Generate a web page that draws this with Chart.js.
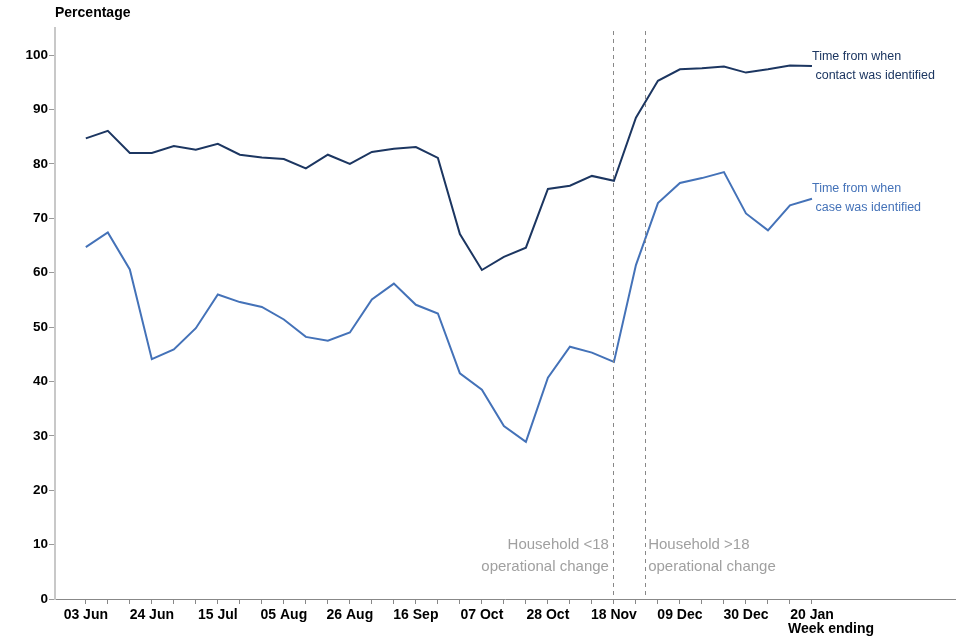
<!DOCTYPE html>
<html lang="en">
<head>
    <meta charset="UTF-8">
    <title>Contact tracing - time from identification</title>
    <script src="https://cdn.jsdelivr.net/npm/chart.js"></script>
    <style>
        body { margin: 0; background: #fff; }
        #wrap { width: 960px; height: 640px; }
    </style>
</head>
<body>
    <div id="wrap"><canvas id="trendChart" width="960" height="640"></canvas></div>

    <script>
        // weekly data, week ending
        const weeks = ['03 Jun', '10 Jun', '17 Jun', '24 Jun', '01 Jul', '08 Jul', '15 Jul', '22 Jul', '29 Jul',
            '05 Aug', '12 Aug', '19 Aug', '26 Aug', '02 Sep', '09 Sep', '16 Sep', '23 Sep', '30 Sep',
            '07 Oct', '14 Oct', '21 Oct', '28 Oct', '04 Nov', '11 Nov', '18 Nov', '25 Nov', '02 Dec',
            '09 Dec', '16 Dec', '23 Dec', '30 Dec', '06 Jan', '13 Jan', '20 Jan'];

        const contactValues = [84.7, 86.1, 82.0, 82.0, 83.3, 82.6, 83.7, 81.7, 81.2,
            80.9, 79.2, 81.7, 80.0, 82.2, 82.8, 83.1, 81.1, 67.1,
            60.5, 62.9, 64.6, 75.4, 76.0, 77.8, 76.9, 88.5, 95.3,
            97.4, 97.6, 97.9, 96.8, 97.4, 98.1, 98.0];

        const caseValues = [64.7, 67.4, 60.6, 44.1, 45.9, 49.8, 56.0, 54.6, 53.7,
            51.4, 48.2, 47.5, 49.0, 55.1, 58.0, 54.1, 52.5, 41.5,
            38.5, 31.8, 28.9, 40.7, 46.4, 45.3, 43.6, 61.4, 72.8,
            76.5, 77.4, 78.5, 70.9, 67.8, 72.4, 73.6];

        const yTicks = [0, 10, 20, 30, 40, 50, 60, 70, 80, 90, 100];

        // operational change markers (position in weeks from 03 Jun)
        const changeLines = [24, 25.42];

        const contactColor = '#1c3661';
        const caseColor = '#4472b8';
        const fontFamily = '"Liberation Sans", Arial, sans-serif';

        const toPoints = (vals) => vals.map((v, i) => ({ x: i, y: v }));

        const annotations = {
            id: 'annotations',
            afterDatasetsDraw(chart) {
                const { ctx, chartArea, scales } = chart;
                const x = scales.x;
                ctx.save();

                // dashed vertical lines
                ctx.strokeStyle = '#888';
                ctx.lineWidth = 1;
                ctx.setLineDash([4, 4]);
                changeLines.forEach(v => {
                    const px = Math.floor(x.getPixelForValue(v)) + 0.5;
                    ctx.beginPath();
                    ctx.moveTo(px, 31);
                    ctx.lineTo(px, chartArea.bottom);
                    ctx.stroke();
                });
                ctx.setLineDash([]);

                ctx.font = '15px ' + fontFamily;
                ctx.fillStyle = '#a0a0a0';
                ctx.textBaseline = 'middle';
                const l1 = x.getPixelForValue(changeLines[0]);
                const l2 = x.getPixelForValue(changeLines[1]);
                ctx.textAlign = 'right';
                ctx.fillText('Household <18', l1 - 5, 545);
                ctx.fillText('operational change', l1 - 5, 567);
                ctx.textAlign = 'left';
                ctx.fillText('Household >18', l2 + 3, 545);
                ctx.fillText('operational change', l2 + 3, 567);

                // series labels at line ends
                ctx.font = '12.5px ' + fontFamily;
                const endX = x.getPixelForValue(weeks.length - 1);
                ctx.fillStyle = contactColor;
                ctx.fillText('Time from when', endX, 57);
                ctx.fillText(' contact was identified', endX, 76);
                ctx.fillStyle = caseColor;
                ctx.fillText('Time from when', endX, 189);
                ctx.fillText(' case was identified', endX, 208);

                // axis titles
                ctx.fillStyle = '#000';
                ctx.font = 'bold 14px ' + fontFamily;
                ctx.fillText('Percentage', 55, 13);
                ctx.fillText('Week ending', 788, 629);
                ctx.restore();
            }
        };

        const chart = new Chart(document.getElementById('trendChart').getContext('2d'), {
            type: 'line',
            data: {
                datasets: [
                    {
                        label: 'Time from when contact was identified',
                        data: toPoints(contactValues),
                        borderColor: contactColor,
                        borderWidth: 2,
                        pointRadius: 0,
                        tension: 0
                    },
                    {
                        label: 'Time from when case was identified',
                        data: toPoints(caseValues),
                        borderColor: caseColor,
                        borderWidth: 2,
                        pointRadius: 0,
                        tension: 0
                    }
                ]
            },
            options: {
                responsive: false,
                animation: false,
                layout: { padding: { top: 28, right: 5, left: 0, bottom: 0 } },
                plugins: {
                    legend: { display: false },
                    tooltip: { enabled: false }
                },
                scales: {
                    x: {
                        type: 'linear',
                        min: -1.4,
                        max: 39.5,
                        afterBuildTicks: (scale) => {
                            scale.ticks = weeks.map((w, i) => ({ value: i }));
                        },
                        afterFit: (scale) => { scale.height = 41; },
                        grid: { drawOnChartArea: false, tickLength: 5, color: '#888' },
                        border: { color: '#888', width: 1 },
                        ticks: {
                            autoSkip: false,
                            maxRotation: 0,
                            padding: 3,
                            color: '#000',
                            font: { family: fontFamily, size: 14, weight: 'bold' },
                            callback: (v) => (v % 3 === 0 ? weeks[v] : '')
                        }
                    },
                    y: {
                        min: 0,
                        max: 105,
                        afterBuildTicks: (scale) => {
                            scale.ticks = yTicks.map(v => ({ value: v }));
                        },
                        afterFit: (scale) => { scale.width = 55; },
                        grid: { drawOnChartArea: false, tickLength: 6, color: '#999' },
                        border: { color: '#c8c8c8', width: 2 },
                        ticks: {
                            padding: 1,
                            color: '#000',
                            font: { family: fontFamily, size: 13.5, weight: 'bold' }
                        }
                    }
                }
            },
            plugins: [annotations]
        });
    </script>
</body>
</html>
